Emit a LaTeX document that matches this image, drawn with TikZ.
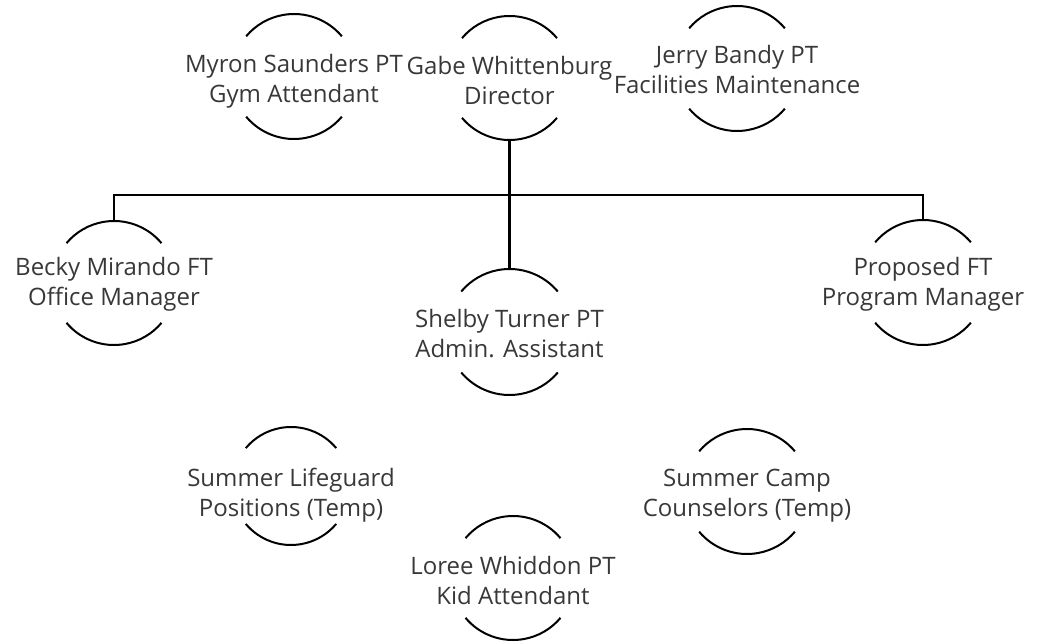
\documentclass[tikz,border=0pt]{standalone}
\usepackage{fontspec}
\setmainfont{Open Sans}
\begin{document}
\begin{tikzpicture}[x=1pt,y=1pt,
  person/.style={circle, minimum size=#1, inner sep=0pt, outer sep=0pt},
  label text/.style={align=center, inner sep=0pt, text=black!78,
    font=\fontsize{24}{30}\selectfont},
  ring/.style={line width=2pt, black},
  link/.style={line width=2pt, black},
  mainlink/.style={line width=3pt, black}]
\useasboundingbox (0,-644) rectangle (1040,0);
\node[person=125] (myron)  at (294,-76.5)   {};
\node[person=124] (gabe)   at (509.5,-78)   {};
\node[person=125] (jerry)  at (737,-68.5)   {};
\node[person=124] (becky)  at (114,-283)    {};
\node[person=125] (prop)   at (923,-282.5)  {};
\node[person=126] (shelby) at (509.5,-332)  {};
\node[person=118] (life)   at (291,-486)    {};
\node[person=125] (camp)   at (747,-491.5)  {};
\node[person=124] (loree)  at (513,-578)    {};
\node[label text] (myronT)  at ([yshift=-5]myron)  {Myron Saunders PT\\Gym Attendant};
\node[label text] (gabeT)   at ([yshift=-2.5]gabe)   {Gabe Whittenburg\\Director};
\node[label text] (jerryT)  at ([yshift=-1]jerry)  {Jerry Bandy PT\\Facilities Maintenance};
\node[label text] (beckyT)  at ([yshift=-1.5]becky) {Becky Mirando FT\\Office Manager};
\node[label text] (propT)   at ([yshift=-1.5]prop)  {Proposed FT\\Program Manager};
\node[label text] (shelbyT) at ([yshift=-1.5]shelby) {Shelby Turner PT\\Admin. Assistant};
\node[label text] (lifeT)   at ([yshift=-9]life)   {Summer Lifeguard\\Positions (Temp)};
\node[label text] (campT)   at ([yshift=-4]camp)   {Summer Camp\\Counselors (Temp)};
\node[label text] (loreeT)  at ([yshift=-2]loree)  {Loree Whiddon PT\\Kid Attendant};
\foreach \n/\r in {myron/62.5,gabe/62,jerry/62.5,becky/62,prop/62.5,shelby/63,life/59,camp/62.5,loree/62}{
  \draw[ring] (\n.40) arc[start angle=40,end angle=140,radius=\r];
  \draw[ring] (\n.220) arc[start angle=220,end angle=320,radius=\r];
}
\draw[mainlink] (gabe.south) -- (shelby.north);
\coordinate (hub) at (509.5,-195);
\draw[link] (becky.north) -- (becky.north |- hub) -- (prop.north |- hub) -- (prop.north);
\end{tikzpicture}
\end{document}
